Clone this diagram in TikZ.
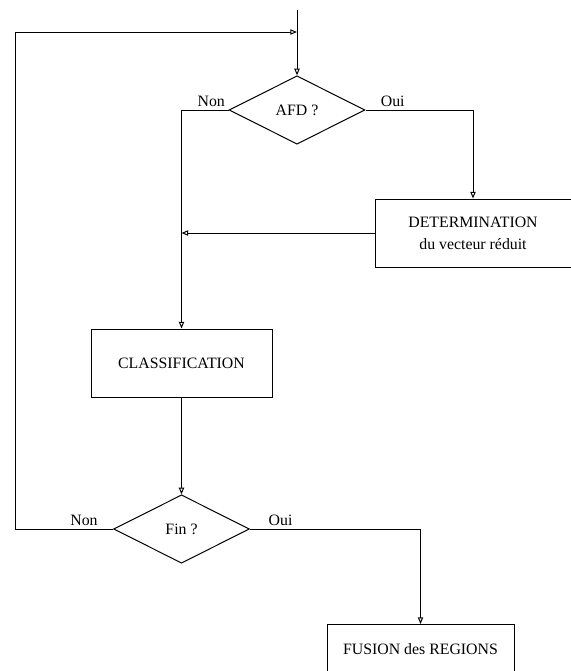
\documentclass[tikz,border=0pt]{standalone}
\usepackage{fontspec}
\setmainfont{Liberation Serif}
\usepackage{tikz}
\usetikzlibrary{shapes.geometric,arrows.meta,positioning}

\begin{document}
\begin{tikzpicture}[
  x=0.6pt, y=-0.6pt,
  box/.style={rectangle, draw, line width=0.6pt, minimum width=#1,
              minimum height=40.8pt, align=center, inner sep=2pt,
              font=\fontsize{9.5}{13.2}\selectfont},
  box/.default={108.6pt},
  test/.style={diamond, draw, line width=0.6pt, minimum width=81.6pt,
               minimum height=41pt, inner sep=0pt, aspect=2,
               font=\fontsize{9.5}{11}\selectfont},
  arrow/.style={-{Triangle[open, length=4pt, width=3.2pt]}, line width=0.6pt},
  lbl/.style={inner sep=0pt, font=\fontsize{9.5}{11}\selectfont}
]
  \useasboundingbox (0,0) rectangle (570,671);

  % decisions and blocks
  \node[test] (afd) at (297,110) {AFD ?};
  \node[box=117.6pt] (determ) at (473,233) {DETERMINATION\\du vecteur r\'eduit};
  \node[box] (classif) at (181.5,363) {CLASSIFICATION};
  \node[test] (fin) at (181.5,529) {Fin ?};
  \node[box=112.2pt, text depth=12pt, anchor=north] (fusion) at (420.5,624) {FUSION des REGIONS};

  \coordinate (entry) at (297,10);
  \coordinate (loopin) at (297,32);

  % branch labels
  \node[lbl, above left=2pt and 2pt of afd.west] (afdnon) {Non};
  \node[lbl, above right=2pt and 9pt of afd.east] (afdoui) {Oui};
  \node[lbl, above left=2pt and 9pt of fin.west] (finnon) {Non};
  \node[lbl, above right=2pt and 11pt of fin.east] (finoui) {Oui};

  % connectors
  \draw[arrow] (entry) -- (afd.north);
  \draw[arrow] (fin.west) -- ++(-98,0) |- (loopin);
  \draw[arrow] (afd.west) -| (classif.north);
  \draw[arrow] (afd.east) -| (determ.north);
  \draw[arrow] (determ.west) -- (determ.west -| classif.north);
  \draw[arrow] (classif.south) -- (fin.north);
  \draw[arrow] (fin.east) -| (fusion.north);
\end{tikzpicture}
\end{document}
